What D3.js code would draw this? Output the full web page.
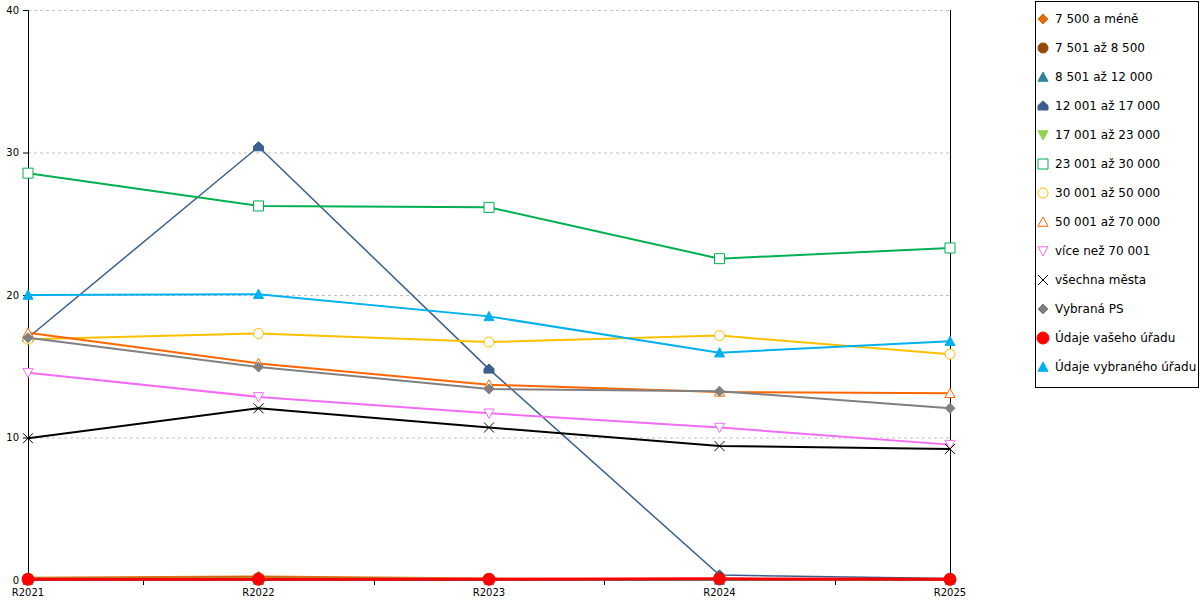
<!DOCTYPE html>
<html>
<head>
<meta charset="utf-8">
<script src="https://cdn.jsdelivr.net/npm/d3@7"></script>
<style>
  body { margin: 0; background: #fff; }
  svg { display: block; font-family: "DejaVu Sans", Verdana, sans-serif; }
</style>
</head>
<body>
<svg width="1200" height="600"></svg>
<script>
const years = ['R2021', 'R2022', 'R2023', 'R2024', 'R2025'];
const yTicks = [0, 10, 20, 30, 40];

// one array per series
const s7500 = [0.15, 0.25, 0.1, 0.05, 0.02];
const s8500 = [0.1, 0.15, 0.05, 0.02, 0.0];
const s12000 = [0.0, 0.0, 0.0, 0.0, 0.0];
const s17000 = [17.0, 30.4, 14.8, 0.35, 0.1];
const s23000 = [0.1, 0.12, 0.08, 0.06, 0.05];
const s30000 = [28.55, 26.25, 26.15, 22.55, 23.3];
const s50000 = [16.9, 17.3, 16.7, 17.15, 15.85];
const s70000 = [17.35, 15.2, 13.7, 13.2, 13.1];
const sOver = [14.55, 12.85, 11.7, 10.7, 9.5];
const sAll = [9.95, 12.05, 10.7, 9.4, 9.2];
const sPS = [17.0, 14.95, 13.4, 13.25, 12.05];
const sYours = [0.05, 0.05, 0.05, 0.08, 0.05];
const sChosen = [20.0, 20.05, 18.5, 15.95, 16.75];

const series = [
  { name: '7 500 a méně', values: s7500, color: '#e46c0a', marker: 'diamond', fill: true, width: 2 },
  { name: '7 501 až 8 500', values: s8500, color: '#974806', marker: 'circle', fill: true, width: 2 },
  { name: '8 501 až 12 000', values: s12000, color: '#31849b', marker: 'triangle', fill: true, width: 2 },
  { name: '12 001 až 17 000', values: s17000, color: '#3a5f8f', marker: 'house', fill: true, width: 1.5 },
  { name: '17 001 až 23 000', values: s23000, color: '#92d050', marker: 'down', fill: true, width: 2 },
  { name: '23 001 až 30 000', values: s30000, color: '#00b050', marker: 'square', fill: false, width: 2 },
  { name: '30 001 až 50 000', values: s50000, color: '#ffc000', marker: 'circle', fill: false, width: 2 },
  { name: '50 001 až 70 000', values: s70000, color: '#ff6600', marker: 'triangle', fill: false, width: 2 },
  { name: 'více než 70 001', values: sOver, color: '#f46cf4', marker: 'down', fill: false, width: 2 },
  { name: 'všechna města', values: sAll, color: '#000000', marker: 'x', fill: false, width: 2 },
  { name: 'Vybraná PS', values: sPS, color: '#808080', marker: 'diamond', fill: true, width: 2 },
  { name: 'Údaje vašeho úřadu', values: sYours, color: '#ff0000', marker: 'circle', fill: true, width: 3, size: 6 },
  { name: 'Údaje vybraného úřadu', values: sChosen, color: '#00b0f0', marker: 'triangle', fill: true, width: 2 }
];

const svg = d3.select('svg');
const plotLeft = 28, plotRight = 950, plotTop = 10, plotBottom = 580;

const x = d3.scalePoint().domain(years).range([plotLeft, plotRight]);
const y = d3.scaleLinear().domain([0, 40]).range([plotBottom, plotTop]);

// dashed grid
svg.append('g')
  .selectAll('line')
  .data(yTicks.filter(t => t > 0))
  .join('line')
  .attr('x1', plotLeft).attr('x2', plotRight)
  .attr('y1', d => y(d) + 0.5).attr('y2', d => y(d) + 0.5)
  .attr('stroke', '#bfbfbf')
  .attr('stroke-dasharray', '3,3');

// left axis
const yAxis = svg.append('g')
  .attr('transform', `translate(${plotLeft},0)`)
  .call(d3.axisLeft(y).tickValues(yTicks).tickSize(5).tickPadding(4).tickFormat(d3.format('d')));
yAxis.select('.domain').attr('stroke', '#000');
yAxis.selectAll('text').attr('font-size', 10).attr('font-family', '"DejaVu Sans", Verdana, sans-serif').attr('fill', '#000');

// right border line
svg.append('line')
  .attr('x1', plotRight + 0.5).attr('x2', plotRight + 0.5)
  .attr('y1', plotTop).attr('y2', plotBottom)
  .attr('stroke', '#000');

// bottom axis: labels at categories, ticks between them
svg.append('line')
  .attr('x1', plotLeft).attr('x2', plotRight)
  .attr('y1', plotBottom + 0.5).attr('y2', plotBottom + 0.5)
  .attr('stroke', '#000');

const step = x.step();
svg.append('g')
  .selectAll('line')
  .data(years.slice(1))
  .join('line')
  .attr('x1', d => Math.round(x(d) - step / 2) + 0.5).attr('x2', d => Math.round(x(d) - step / 2) + 0.5)
  .attr('y1', plotBottom).attr('y2', plotBottom + 5)
  .attr('stroke', '#000');

svg.append('g')
  .selectAll('text')
  .data(years)
  .join('text')
  .attr('x', d => x(d))
  .attr('y', 596)
  .attr('text-anchor', 'middle')
  .attr('font-size', 10)
  .text(d => d);

// markers
function markerPath(kind, r) {
  if (kind === 'x') {
    return `M${-r},${-r}L${r},${r}M${-r},${r}L${r},${-r}`;
  }
  if (kind === 'house') {
    return `M0,${-r}L${r},${-r * 0.1}L${r},${r * 0.8}L${-r},${r * 0.8}L${-r},${-r * 0.1}Z`;
  }
  if (kind === 'down') {
    return `M${-r},${-r * 0.85}L${r},${-r * 0.85}L0,${r}Z`;
  }
  if (kind === 'triangle') {
    return `M0,${-r}L${r},${r * 0.85}L${-r},${r * 0.85}Z`;
  }
  if (kind === 'diamond') {
    return `M0,${-r}L${r},0L0,${r}L${-r},0Z`;
  }
  if (kind === 'square') {
    return `M${-r},${-r}H${r}V${r}H${-r}Z`;
  }
  return d3.arc()({ innerRadius: 0, outerRadius: r, startAngle: 0, endAngle: 2 * Math.PI });
}

function drawMarker(g, s, cx, cy) {
  const r = s.size || 5;
  g.append('path')
    .attr('transform', `translate(${cx},${cy})`)
    .attr('d', markerPath(s.marker, r))
    .attr('fill', s.fill ? s.color : (s.marker === 'x' ? 'none' : '#fff'))
    .attr('stroke', s.color)
    .attr('stroke-width', 1);
}

const line = d3.line()
  .x((d, i) => x(years[i]))
  .y(d => y(d));

series.forEach(s => {
  const g = svg.append('g');
  g.append('path')
    .attr('d', line(s.values))
    .attr('fill', 'none')
    .attr('stroke', s.color)
    .attr('stroke-width', s.width);
  s.values.forEach((v, i) => drawMarker(g, s, x(years[i]), y(v)));
});

// legend
const legend = svg.append('g');
legend.append('rect')
  .attr('x', 1035.5).attr('y', 1.5)
  .attr('width', 163).attr('height', 386)
  .attr('fill', '#fff')
  .attr('stroke', '#000');

series.forEach((s, i) => {
  const ly = 19 + i * 29;
  drawMarker(legend, s, 1043, ly);
  legend.append('text')
    .attr('x', 1055)
    .attr('y', ly)
    .attr('dy', '0.36em')
    .attr('font-size', 12)
    .text(s.name);
});
</script>
</body>
</html>
